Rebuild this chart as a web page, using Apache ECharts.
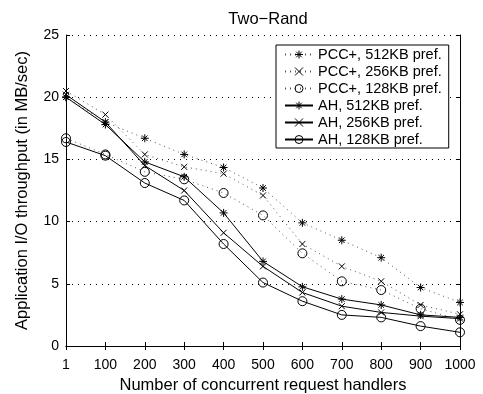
<!DOCTYPE html>
<html><head><meta charset="utf-8">
<script src="https://cdn.jsdelivr.net/npm/echarts@6/dist/echarts.min.js"></script>
<style>html,body{margin:0;padding:0;background:#fff}#c{width:483px;height:394px}</style>
</head><body><div id="c"></div>
<script>
var categories = ['1','100','200','300','400','500','600','700','800','900','1000'];
var pcc512 = [20.0, 18.0, 16.7, 15.4, 14.35, 12.7, 9.9, 8.5, 7.1, 4.7, 3.5];
var pcc256 = [20.5, 18.6, 15.4, 14.4, 13.85, 12.1, 8.2, 6.4, 5.2, 3.3, 2.55];
var pcc128 = [16.7, 15.4, 14.0, 13.4, 12.3, 10.5, 7.45, 5.2, 4.5, 3.0, 2.1];
var ah512 = [20.0, 17.8, 14.8, 13.6, 10.7, 6.8, 4.76, 3.77, 3.3, 2.5, 2.3];
var ah256 = [20.2, 18.0, 14.5, 12.5, 9.1, 6.4, 4.3, 3.2, 2.7, 2.4, 2.2];
var ah128 = [16.4, 15.3, 13.1, 11.7, 8.2, 5.1, 3.6, 2.5, 2.3, 1.6, 1.1];
var names = ['PCC+, 512KB pref.','PCC+, 256KB pref.','PCC+, 128KB pref.','AH, 512KB pref.','AH, 256KB pref.','AH, 128KB pref.'];

var STAR = 'path://M0,-1L0,1M-1,0L1,0M-0.7,-0.7L0.7,0.7M-0.7,0.7L0.7,-0.7';
var CROSS = 'path://M-1,-1L1,1M-1,1L1,-1';
var CIRC = 'path://M1,0A1,1 0 1,1 -1,0A1,1 0 1,1 1,0Z';
var FONT = 'Liberation Sans, Arial, sans-serif';

function mk(name, data, sym, size, dotted) {
  return {
    name: name, type: 'line', data: data, symbol: sym, symbolSize: size,
    showAllSymbol: true, animation: false,
    lineStyle: dotted ? {color: '#555', width: 1, type: [1, 4]} : {color: '#000', width: 1},
    itemStyle: {color: 'none', borderColor: '#000', borderWidth: 1},
    emphasis: {disabled: true}, z: dotted ? 2 : 3
  };
}

var chart = echarts.init(document.getElementById('c'), null, {renderer: 'canvas'});
chart.setOption({
  backgroundColor: '#fff',
  animation: false,
  title: {text: 'Two\u2212Rand', left: 263, textAlign: 'center', top: 6,
    textStyle: {fontFamily: FONT, fontSize: 16.5, fontWeight: 'normal', color: '#000'}},
  grid: {left: 66, right: 23, top: 35, bottom: 48, containLabel: false, outerBoundsMode: 'none'},
  legend: {
    orient: 'vertical', left: 276, top: 45,
    padding: [2, 7, 1, 8], itemGap: 2, itemWidth: 28, itemHeight: 10,
    borderColor: '#000', borderWidth: 1, backgroundColor: '#fff',
    itemStyle: {borderWidth: 1},
    textStyle: {fontFamily: FONT, fontSize: 14.5, color: '#000'},
    data: names
  },
  xAxis: [{
    type: 'category', data: categories, boundaryGap: false,
    axisLine: {lineStyle: {color: '#000', width: 1}},
    axisTick: {inside: true, length: 4, lineStyle: {color: '#000'}, alignWithLabel: true},
    axisLabel: {fontFamily: FONT, fontSize: 14, color: '#000', margin: 12, interval: 0},
    name: 'Number of concurrent request handlers', nameLocation: 'middle', nameGap: 30,
    nameTextStyle: {fontFamily: FONT, fontSize: 16.5, color: '#000'},
    splitLine: {show: false}
  }, {
    type: 'category', data: categories, boundaryGap: false, position: 'top',
    axisLine: {lineStyle: {color: '#000', width: 1}},
    axisTick: {inside: true, length: 4, lineStyle: {color: '#000'}},
    axisLabel: {show: false}, splitLine: {show: false}
  }],
  yAxis: [{
    type: 'value', min: 0, max: 25, interval: 5,
    axisLine: {show: true, lineStyle: {color: '#000', width: 1}},
    axisTick: {show: true, inside: true, length: 4, lineStyle: {color: '#000'}},
    axisLabel: {fontFamily: FONT, fontSize: 14, color: '#000', margin: 7},
    splitLine: {show: true, lineStyle: {color: '#000', width: 1, type: [1, 5]}},
    name: 'Application I/O throughput (in MB/sec)', nameLocation: 'middle', nameGap: 35,
    nameTextStyle: {fontFamily: FONT, fontSize: 16.5, color: '#000'}
  }, {
    type: 'value', min: 0, max: 25, interval: 5, position: 'right',
    axisLine: {show: true, lineStyle: {color: '#000', width: 1}},
    axisTick: {show: true, inside: true, length: 4, lineStyle: {color: '#000'}},
    axisLabel: {show: false}, splitLine: {show: false}
  }],
  series: [
    mk(names[0], pcc512, STAR, 8, true),
    mk(names[1], pcc256, CROSS, 6, true),
    mk(names[2], pcc128, CIRC, 9, true),
    mk(names[3], ah512, STAR, 8, false),
    mk(names[4], ah256, CROSS, 6, false),
    mk(names[5], ah128, CIRC, 9, false)
  ]
});
</script></body></html>
